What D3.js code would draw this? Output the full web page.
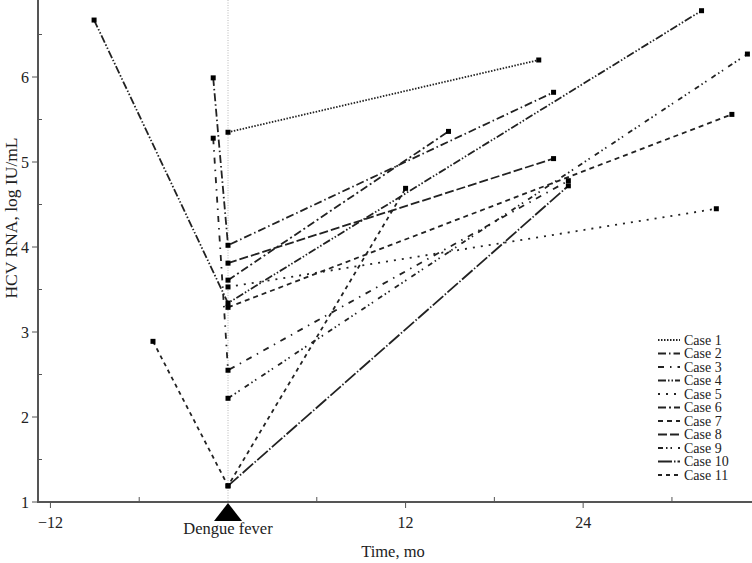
<!DOCTYPE html>
<html>
<head>
<meta charset="utf-8">
<script src="https://cdn.jsdelivr.net/npm/d3@7"></script>
<style>
  html, body { margin: 0; padding: 0; background: #fff; }
  svg { display: block; }
  text { font-family: "Liberation Serif", "DejaVu Serif", serif; fill: #222; }
</style>
</head>
<body>
<svg id="chart" width="752" height="563"></svg>
<script>
// ---- data ----
const caseNames = ["Case 1","Case 2","Case 3","Case 4","Case 5","Case 6","Case 7","Case 8","Case 9","Case 10","Case 11"];
// months relative to dengue fever, log IU/mL
const case1  = [[0, 5.35], [21.0, 6.20]];
const case2  = [[-1.0, 5.99], [0, 4.02], [22.0, 5.82]];
const case3  = [[-1.0, 5.28], [0, 2.55], [23.0, 4.78]];
const case4  = [[-9.05, 6.67], [0, 3.34], [32.0, 6.78]];
const case5  = [[0, 3.53], [33.0, 4.45]];
const case6  = [[0, 3.61], [14.9, 5.36]];
const case7  = [[0, 3.29], [34.05, 5.56]];
const case8  = [[0, 3.81], [22.0, 5.04]];
const case9  = [[0, 2.22], [35.1, 6.27]];
const case10 = [[0, 1.19], [23.0, 4.72]];
const case11 = [[-5.07, 2.89], [0, 1.19], [12.0, 4.69]];
const caseData = [case1, case2, case3, case4, case5, case6, case7, case8, case9, case10, case11];
const dashes = ["1.5,1.5", "8,3,1.5,3", "6,6,1.5,6", "8,2,1.5,2,1.5,2", "2,6", "8,3,2,3", "5,4", "9,3", "5,3,1.5,3,1.5,6", "14,2,1.5,2", "4,4"];
const xMajorTicks = [-12, 12, 24];
const xMinorTicks = [-6, 6, 18, 30];
const yMajorTicks = [1, 2, 3, 4, 5, 6];
const yMinorTicks = [1.5, 2.5, 3.5, 4.5, 5.5, 6.5];

// ---- scales ----
const svg = d3.select("#chart");
const x = d3.scaleLinear().domain([-12.84, 35.41]).range([38, 752]);
const y = d3.scaleLinear().domain([1, 6.9]).range([502, 0.5]);

// vertical dengue reference line
svg.append("line")
  .attr("x1", x(0)).attr("x2", x(0))
  .attr("y1", 0).attr("y2", 508)
  .attr("stroke", "#b8b8b8").attr("stroke-width", 1)
  .attr("stroke-dasharray", "1,1.5");

// axes
const axisColor = "#555";
svg.append("line").attr("x1", 38).attr("x2", 38).attr("y1", 0).attr("y2", y(1))
  .attr("stroke", axisColor).attr("stroke-width", 2);
svg.append("line").attr("x1", 37).attr("x2", 752).attr("y1", y(1)).attr("y2", y(1))
  .attr("stroke", axisColor).attr("stroke-width", 2);

// y ticks
svg.selectAll(".ymaj").data(yMajorTicks).enter().append("line")
  .attr("x1", 32).attr("x2", 38).attr("y1", d => y(d)).attr("y2", d => y(d))
  .attr("stroke", axisColor).attr("stroke-width", 1);
svg.selectAll(".ymin").data(yMinorTicks).enter().append("line")
  .attr("x1", 38).attr("x2", 42).attr("y1", d => y(d)).attr("y2", d => y(d))
  .attr("stroke", axisColor).attr("stroke-width", 1);
svg.selectAll(".ylab").data(yMajorTicks).enter().append("text")
  .attr("x", 29).attr("y", d => y(d)).attr("dy", "0.35em")
  .attr("text-anchor", "end").attr("font-size", 16).text(d => d);

// x ticks
svg.selectAll(".xmaj").data(xMajorTicks).enter().append("line")
  .attr("x1", d => x(d)).attr("x2", d => x(d)).attr("y1", y(1)).attr("y2", y(1) + 6)
  .attr("stroke", axisColor).attr("stroke-width", 1);
svg.selectAll(".xmin").data(xMinorTicks).enter().append("line")
  .attr("x1", d => x(d)).attr("x2", d => x(d)).attr("y1", y(1) - 5).attr("y2", y(1))
  .attr("stroke", axisColor).attr("stroke-width", 1);
svg.selectAll(".xlab").data(xMajorTicks).enter().append("text")
  .attr("x", d => x(d)).attr("y", 528)
  .attr("text-anchor", "middle").attr("font-size", 16)
  .text(d => d < 0 ? "\u2212" + Math.abs(d) : d);

// dengue triangle + label
const tx = x(0);
svg.append("path")
  .attr("d", `M${tx},${y(1) + 1} L${tx + 14},${y(1) + 19} L${tx - 14},${y(1) + 19} Z`)
  .attr("fill", "#000");
svg.append("text").attr("x", tx).attr("y", 534).attr("text-anchor", "middle")
  .attr("font-size", 16.5).text("Dengue fever");

// axis titles
svg.append("text").attr("x", 393).attr("y", 557).attr("text-anchor", "middle")
  .attr("font-size", 16.5).text("Time, mo");
svg.append("text")
  .attr("transform", `translate(17,218) rotate(-90)`)
  .attr("text-anchor", "middle").attr("font-size", 17.5)
  .text("HCV RNA, log IU/mL");

// series
const line = d3.line().x(d => x(d[0])).y(d => y(d[1]));
const g = svg.append("g");
caseData.forEach((pts, i) => {
  g.append("path").datum(pts)
    .attr("d", line)
    .attr("fill", "none")
    .attr("stroke", "#222")
    .attr("stroke-width", 1.8)
    .attr("stroke-dasharray", dashes[i]);
});
caseData.forEach(pts => {
  g.selectAll(null).data(pts).enter().append("rect")
    .attr("x", d => x(d[0]) - 2.5).attr("y", d => y(d[1]) - 2.5)
    .attr("width", 5).attr("height", 5).attr("fill", "#000");
});

// legend
const lg = svg.append("g").attr("transform", "translate(658,340)");
caseNames.forEach((name, i) => {
  const yy = i * 13.5;
  lg.append("line").attr("x1", 0).attr("x2", 22).attr("y1", yy).attr("y2", yy)
    .attr("stroke", "#222").attr("stroke-width", 2)
    .attr("stroke-dasharray", dashes[i]);
  lg.append("text").attr("x", 26).attr("y", yy).attr("dy", "0.35em")
    .attr("font-size", 14).text(name);
});
</script>
</body>
</html>
